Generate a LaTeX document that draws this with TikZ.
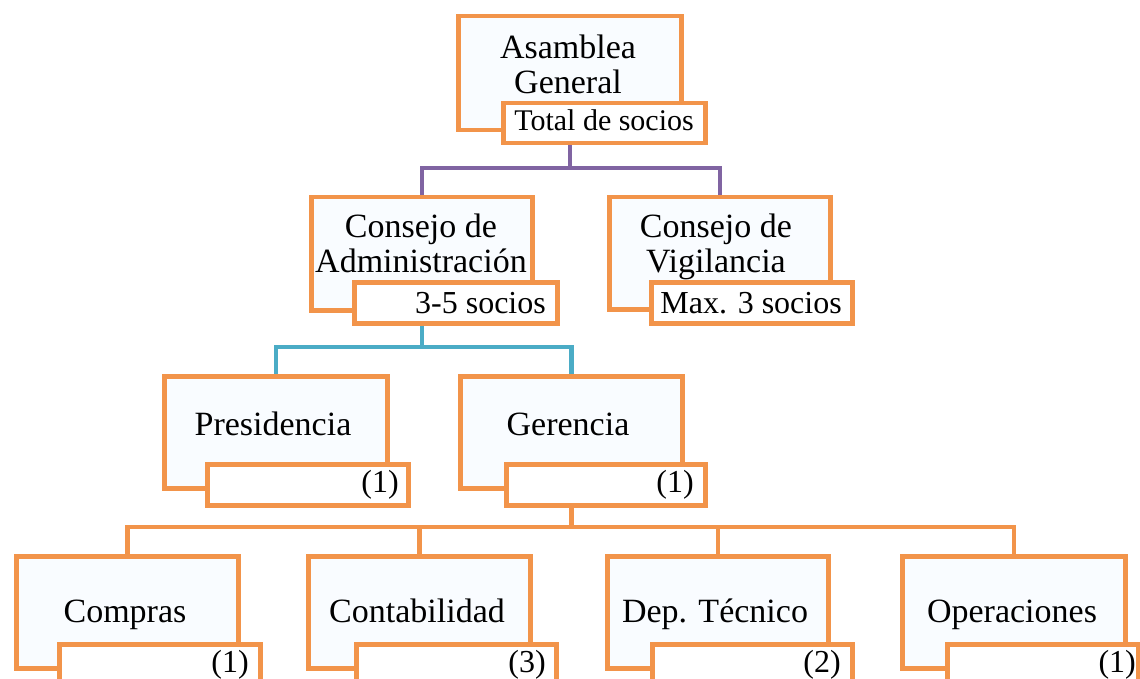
\documentclass[tikz,border=0pt]{standalone}
\usepackage{fontspec}
\setmainfont{Liberation Serif}
\definecolor{boxorange}{HTML}{F2944A}
\definecolor{linepurple}{HTML}{8064A2}
\definecolor{lineblue}{HTML}{4BACC6}
\definecolor{boxfill}{HTML}{F9FCFF}
\tikzset{
  mainbox/.style={draw=boxorange, line width=4.5pt, fill=boxfill, inner sep=0pt, anchor=north west},
  subbox/.style={draw=boxorange, line width=4.5pt, fill=white, inner sep=0pt, anchor=north west},
  maintxt/.style={inner sep=0pt, align=center, font=\fontsize{34}{35}\selectfont},
  subtxt/.style={inner sep=0pt, anchor=base east, font=\fontsize{32}{33}\selectfont},
  conn/.style={line width=4.5pt}
}
\begin{document}
\begin{tikzpicture}[x=1pt,y=-1pt]
\clip (0,0) rectangle (1140,679);
\fill[white] (0,0) rectangle (1140,679);

% boxes (main)
\node[mainbox, minimum width=223pt, minimum height=114pt] (ag) at (456,14) {};
\node[mainbox, minimum width=221pt, minimum height=113pt] (ca) at (309,195) {};
\node[mainbox, minimum width=221pt, minimum height=112pt] (cv) at (607,195) {};
\node[mainbox, minimum width=223pt, minimum height=112pt] (pr) at (162,374) {};
\node[mainbox, minimum width=222pt, minimum height=112pt] (ge) at (458,374) {};
\node[mainbox, minimum width=222pt, minimum height=112pt] (co) at (14,554) {};
\node[mainbox, minimum width=222pt, minimum height=112pt] (ct) at (306,554) {};
\node[mainbox, minimum width=221pt, minimum height=112pt] (dt) at (605,554) {};
\node[mainbox, minimum width=223pt, minimum height=112pt] (op) at (900,554) {};

% purple connector
\draw[conn, linepurple] (ag.south) -- (ag.south |- 0,168) coordinate (pj);
\draw[conn, linepurple] (ca.north) |- (pj) -| (cv.north);

% sub boxes
\node[subbox, minimum width=202pt, minimum height=40pt] (ags) at (501,101) {};
\node[subbox, minimum width=203pt, minimum height=41pt] (cas) at (352,280) {};
\node[subbox, minimum width=201pt, minimum height=41pt] (cvs) at (649,280) {};
\node[subbox, minimum width=201pt, minimum height=41pt] (prs) at (205,462) {};
\node[subbox, minimum width=199pt, minimum height=41pt] (ges) at (504,462) {};
\node[subbox, minimum width=201pt, minimum height=45pt] (cos) at (57,642) {};
\node[subbox, minimum width=200pt, minimum height=45pt] (cts) at (354,642) {};
\node[subbox, minimum width=200pt, minimum height=45pt] (dts) at (650,642) {};
\node[subbox, minimum width=191pt, minimum height=45pt] (ops) at (945,642) {};

% blue and orange connectors
\draw[conn, lineblue] (ca.center |- cas.south) -- (ca.center |- 0,347) coordinate (bj);
\draw[conn, lineblue] (pr.north) |- (bj) -| (ge.north);
\draw[conn, boxorange] (ge.center |- ges.south) -- (ge.center |- 0,527) coordinate (oj);
\draw[conn, boxorange] (co.north) |- (oj) -| (op.north);
\draw[conn, boxorange] (ct.north) -- (ct.north |- oj);
\draw[conn, boxorange] (dt.north) -- (dt.north |- oj);

% main texts
\node[maintxt] (agt) at (568,64) {Asamblea\\General};
\node[maintxt] (cat) at (421,243) {Consejo de\\Administración};
\node[maintxt] (cvt) at (716,247) {Consejo de\\Vigilancia};
\node[maintxt, anchor=base] (prt) at (273,435) {Presidencia};
\node[maintxt, anchor=base] (get) at (568,435) {Gerencia};
\node[maintxt, anchor=base] (cot) at (125,622) {Compras};
\node[maintxt, anchor=base] (ctt) at (417,622) {Contabilidad};
\node[maintxt, anchor=base] (dtt) at (715,622) {Dep. Técnico};
\node[maintxt, anchor=base] (opt) at (1012,622) {Operaciones};

% sub texts
\node[subtxt, font=\fontsize{30}{31}\selectfont] (agst) at (694,131) {Total de socios};
\node[subtxt] (cast) at (546,313) {3-5 socios};
\node[subtxt] (cvst) at (842,313) {Max. 3 socios};
\node[subtxt] (prst) at (399,492) {(1)};
\node[subtxt] (gest) at (694,492) {(1)};
\node[subtxt] (cost) at (249,672) {(1)};
\node[subtxt] (ctst) at (546,672) {(3)};
\node[subtxt] (dtst) at (841,672) {(2)};
\node[subtxt] (opst) at (1136,672) {(1)};
\end{tikzpicture}
\end{document}
